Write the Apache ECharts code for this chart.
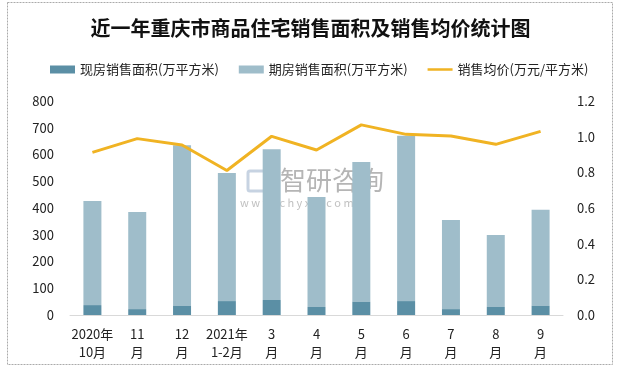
<!DOCTYPE html>
<html><head><meta charset="utf-8">
<script src="https://cdn.jsdelivr.net/npm/echarts@6/dist/echarts.min.js"></script>
<style>html,body{margin:0;padding:0;background:#fff}#c{width:621px;height:369px}</style>
</head><body><div id="c"></div>
<script>
const categories = ['2020年\n10月','11\n月','12\n月','2021年\n1-2月','3\n月','4\n月','5\n月','6\n月','7\n月','8\n月','9\n月'];
const xianfang = [37, 22, 34, 52, 56, 30, 49, 52, 22, 30, 34];
const totalArea = [426, 385, 635, 531, 620, 441, 572, 670, 355, 299, 393];
const qifang = totalArea.map((t, i) => t - xianfang[i]);
const avgPrice = [0.912, 0.989, 0.953, 0.81, 1.002, 0.925, 1.066, 1.013, 1.004, 0.957, 1.03];
const leftTicks = [0, 800, 100];
const rightTicks = [0, 1.2, 0.2];

const FONT = '"Noto Sans CJK SC", sans-serif';
const chart = echarts.init(document.getElementById('c'));
chart.setOption({
  animation: false,
  textStyle: { fontFamily: FONT },
  graphic: [
    { type: 'rect', shape: { x: 7.5, y: 2.5, width: 605, height: 362 }, style: { fill: 'none', stroke: '#aaa', lineWidth: 1, lineDash: [2, 1] }, silent: true },
    { type: 'group', left: 240, top: 167, silent: true, children: [
      { type: 'rect', shape: { x: 0, y: 0, width: 22, height: 20, r: 2 }, style: { fill: 'none', stroke: '#c7d3e2', lineWidth: 3 } },
      { type: 'text', left: 32, top: -4, style: { text: '智研咨询', font: '26px ' + FONT, fill: 'rgba(120,120,120,0.55)' } },
      { type: 'text', left: -8, top: 26, style: { text: 'w w w . c h y x x . c o m', font: '11px ' + FONT, fill: 'rgba(130,130,130,0.5)' } }
    ]}
  ],
  title: {
    text: '近一年重庆市商品住宅销售面积及销售均价统计图',
    left: 'center', top: 13,
    textStyle: { fontSize: 20, fontWeight: 'bold', color: '#111', fontFamily: FONT }
  },
  legend: {
    top: 58, left: 45, itemGap: 20, itemWidth: 25, itemHeight: 8,
    textStyle: { fontSize: 13, color: '#222', fontFamily: FONT },
    data: [
      { name: '现房销售面积(万平方米)', icon: 'rect' },
      { name: '期房销售面积(万平方米)', icon: 'rect' },
      { name: '销售均价(万元/平方米)', icon: 'path://M0,0L0.01,0L0.01,0.01ZM0,2.6L28,2.6L28,5.4L0,5.4ZM0,8L0.01,8L0.01,7.99Z' }
    ]
  },
  grid: { left: 70, right: 58, top: 101, bottom: 54 },
  xAxis: {
    type: 'category', data: categories,
    axisLine: { lineStyle: { color: '#d9d9d9' } },
    axisTick: { show: false },
    axisLabel: { color: '#222', fontSize: 13, lineHeight: 18, margin: 10, interval: 0, fontFamily: FONT }
  },
  yAxis: [
    { type: 'value', min: leftTicks[0], max: leftTicks[1], interval: leftTicks[2],
      splitLine: { show: false }, axisLine: { show: false }, axisTick: { show: false },
      axisLabel: { color: '#222', fontSize: 13, margin: 16, fontFamily: FONT } },
    { type: 'value', min: rightTicks[0], max: rightTicks[1], interval: rightTicks[2],
      splitLine: { show: false }, axisLine: { show: false }, axisTick: { show: false },
      axisLabel: { color: '#222', fontSize: 13, margin: 14, fontFamily: FONT, formatter: v => v.toFixed(1) } }
  ],
  series: [
    { name: '现房销售面积(万平方米)', type: 'bar', stack: 'a', data: xianfang, barWidth: 18,
      itemStyle: { color: '#5b8fa5' } },
    { name: '期房销售面积(万平方米)', type: 'bar', stack: 'a', data: qifang, barWidth: 18,
      itemStyle: { color: '#9fbdca' } },
    { name: '销售均价(万元/平方米)', type: 'line', yAxisIndex: 1, data: avgPrice,
      showSymbol: false, symbol: 'none', lineStyle: { color: '#f0b323', width: 3 }, itemStyle: { color: '#f0b323' } }
  ]
});
</script></body></html>
